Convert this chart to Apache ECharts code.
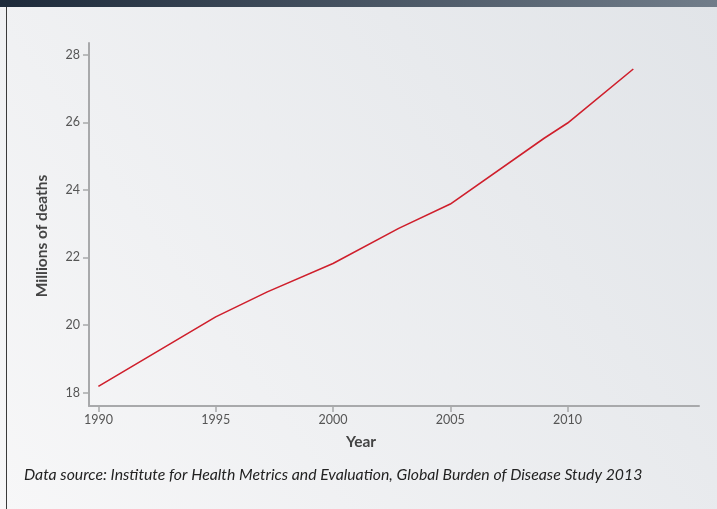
<!DOCTYPE html>
<html>
<head>
<meta charset="utf-8">
<script src="https://cdn.jsdelivr.net/npm/echarts@6/dist/echarts.min.js"></script>
<style>
html,body{margin:0;padding:0;width:717px;height:509px;overflow:hidden;background:#eef0f2;}
#c{width:717px;height:509px;}
</style>
</head>
<body>
<div id="c"></div>
<script>
// Data
var years = [1990, 1995, 1997.2, 2000, 2002.8, 2005, 2009, 2010, 2012.8];
var deaths = [18.18, 20.24, 20.98, 21.82, 22.86, 23.58, 25.53, 25.98, 27.58];
var xTicks = [1990, 1995, 2000, 2005, 2010];
var yTicks = [18, 20, 22, 24, 26, 28];
var yTitle = "Millions of deaths";
var xTitle = "Year";
var sourceText = "Data source: Institute for Health Metrics and Evaluation, Global Burden of Disease Study 2013";

var points = years.map(function (y, i) { return [y, deaths[i]]; });

var chart = echarts.init(document.getElementById('c'), null, {renderer: 'canvas'});
var font = 'Lato, "Open Sans", sans-serif';
chart.setOption({
  animation: false,
  backgroundColor: {
    type: 'linear', x: 0, y: 1, x2: 1, y2: 0,
    colorStops: [{offset: 0, color: '#f7f7f8'}, {offset: 1, color: '#e1e4e8'}]
  },
  grid: {left: 89, right: 18, top: 43, bottom: 103, containLabel: false},
  xAxis: {
    type: 'value', min: 1989.6, max: 2015.6,
    splitLine: {show: false},
    axisLine: {show: true, lineStyle: {color: '#a8a9ab', width: 2}},
    axisTick: {show: true, length: 6, customValues: xTicks, lineStyle: {color: '#a8a9ab', width: 1.5}},
    axisLabel: {customValues: xTicks, color: '#555', fontFamily: font, fontSize: 12.5, margin: 7,
      formatter: function (v) { return String(Math.round(v)); }}
  },
  yAxis: {
    type: 'value', min: 17.6, max: 28.35,
    splitLine: {show: false},
    axisLine: {show: true, lineStyle: {color: '#a8a9ab', width: 2}},
    axisTick: {show: true, length: 6, customValues: yTicks, lineStyle: {color: '#a8a9ab', width: 1.5}},
    axisLabel: {customValues: yTicks, color: '#555', fontFamily: font, fontSize: 12.5, margin: 9,
      formatter: function (v) { return String(Math.round(v)); }}
  },
  series: [{
    type: 'line', data: points, symbol: 'none',
    lineStyle: {color: '#cf1f2c', width: 1.6}
  }],
  graphic: [
    {type: 'rect', left: 0, top: 0, shape: {width: 717, height: 7},
      style: {fill: {type: 'linear', x: 0, y: 0, x2: 1, y2: 0,
        colorStops: [{offset: 0, color: '#1d2a3a'}, {offset: 1, color: '#717d8a'}]}}},
    {type: 'rect', left: 6, top: 7, shape: {width: 1, height: 502}, style: {fill: '#3a3a3a'}},
    {type: 'text', x: 42, y: 236, rotation: Math.PI / 2,
      style: {text: yTitle, fill: '#444', font: 'bold 15.5px ' + font, align: 'center', verticalAlign: 'middle'}},
    {type: 'text', x: 361, y: 442,
      style: {text: xTitle, fill: '#444', font: 'bold 15.5px ' + font, align: 'center', verticalAlign: 'middle'}},
    {type: 'text', x: 24, y: 475,
      style: {text: sourceText, fill: '#222', font: 'italic 15.8px ' + font, align: 'left', verticalAlign: 'middle'}}
  ]
});
</script>
</body>
</html>
